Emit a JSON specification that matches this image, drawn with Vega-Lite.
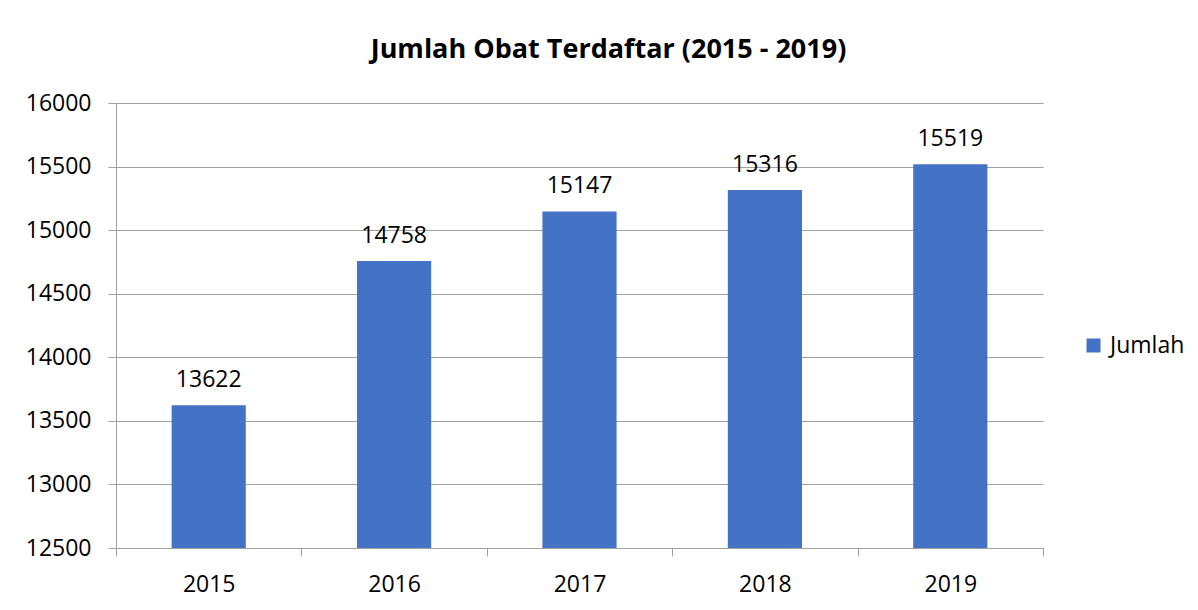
{
  "$schema": "https://vega.github.io/schema/vega-lite/v6.json",
  "autosize": "none",
  "width": 927,
  "height": 445,
  "padding": {"left": 116, "top": 103, "right": 155, "bottom": 62},
  "background": "white",
  "title": {
    "text": "Jumlah Obat Terdaftar (2015 - 2019)",
    "font": "Open Sans",
    "fontSize": 27,
    "fontWeight": "bold",
    "color": "#000000",
    "anchor": "middle",
    "dx": 29,
    "offset": 28
  },
  "config": {
    "view": {"stroke": null},
    "font": "Open Sans"
  },
  "data": {
    "values": [
      {"tahun": "2015", "jumlah": 13622, "seri": "Jumlah"},
      {"tahun": "2016", "jumlah": 14758, "seri": "Jumlah"},
      {"tahun": "2017", "jumlah": 15147, "seri": "Jumlah"},
      {"tahun": "2018", "jumlah": 15316, "seri": "Jumlah"},
      {"tahun": "2019", "jumlah": 15519, "seri": "Jumlah"}
    ]
  },
  "encoding": {
    "x": {
      "field": "tahun",
      "type": "nominal",
      "scale": {"paddingInner": 0, "paddingOuter": 0},
      "axis": {
        "title": null,
        "labelAngle": 0,
        "labelFont": "Open Sans",
        "labelFontSize": 23,
        "labelColor": "#000000",
        "labelBaseline": "alphabetic",
        "labelPadding": 35,
        "tickBand": "extent",
        "tickSize": 8,
        "tickColor": "#a0a0a0",
        "domainColor": "#a0a0a0",
        "grid": false
      }
    },
    "y": {
      "field": "jumlah",
      "type": "quantitative",
      "scale": {"domain": [12500, 16000], "nice": false, "zero": false},
      "axis": {
        "title": null,
        "values": [12500, 13000, 13500, 14000, 14500, 15000, 15500, 16000],
        "format": "d",
        "labelFont": "Open Sans",
        "labelFontSize": 23,
        "labelColor": "#000000",
        "labelPadding": 17,
        "tickSize": 8,
        "tickColor": "#a0a0a0",
        "domainColor": "#a0a0a0",
        "gridColor": "#a0a0a0",
        "gridWidth": 1
      }
    }
  },
  "layer": [
    {
      "mark": {"type": "bar", "width": {"band": 0.4}, "clip": true},
      "encoding": {
        "color": {
          "field": "seri",
          "type": "nominal",
          "scale": {"range": ["#4472C4"]},
          "legend": {
            "title": null,
            "orient": "none",
            "legendX": 966,
            "legendY": 231,
            "symbolType": "square",
            "symbolSize": 196,
            "symbolStrokeWidth": 0,
            "labelFont": "Open Sans",
            "labelFontSize": 23,
            "labelColor": "#000000",
            "labelOffset": 5
          }
        }
      }
    },
    {
      "mark": {"type": "text", "baseline": "alphabetic", "dy": -18, "font": "Open Sans", "fontSize": 23, "color": "#000000"},
      "encoding": {
        "text": {"field": "jumlah", "type": "quantitative", "format": "d"}
      }
    }
  ]
}
